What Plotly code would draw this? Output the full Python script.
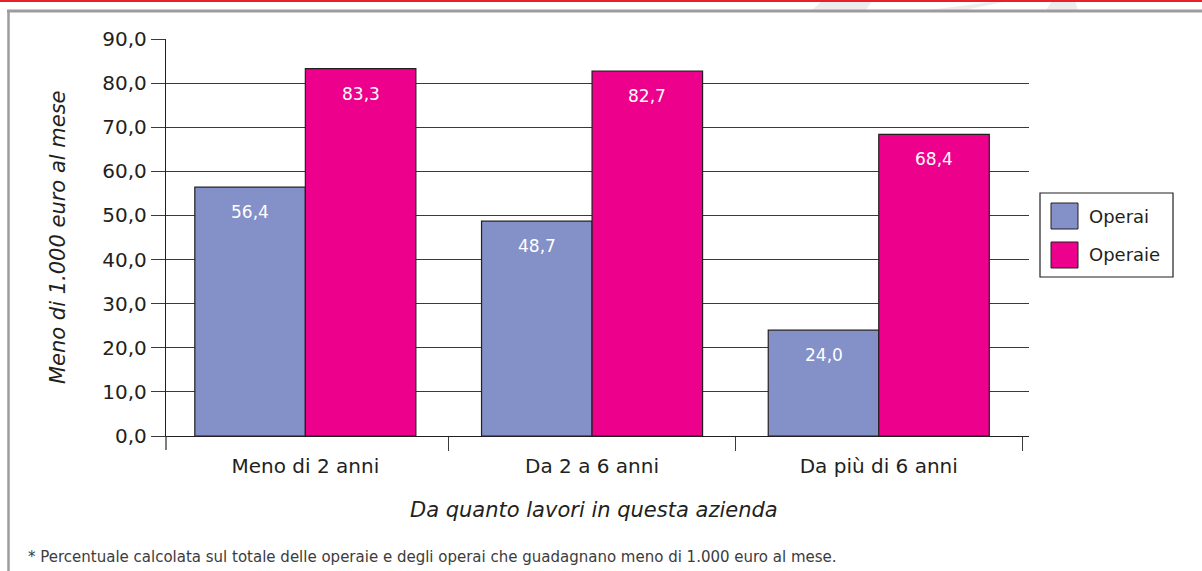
import plotly.graph_objects as go

categories = ["Meno di 2 anni", "Da 2 a 6 anni", "Da più di 6 anni"]
operai = [56.4, 48.7, 24.0]
operaie = [83.3, 82.7, 68.4]
series_names = ["Operai", "Operaie"]
y_ticks = [0, 10, 20, 30, 40, 50, 60, 70, 80, 90]

BLUE = "#8490C8"
PINK = "#EC008C"
INK = "#231F20"
FONT = "DejaVu Sans, Liberation Sans, sans-serif"

# plot-area geometry in pixels (used to place decorations in paper coords)
L, R, T, B = 166, 1029, 39, 436
PW, PH = R - L, B - T

def xp(px):
    return (px - L) / PW

def yp(py):
    return (B - py) / PH

def fmt(v):
    return f"{v:.1f}".replace(".", ",")

fig = go.Figure()
for name, vals, col in [(series_names[0], operai, BLUE), (series_names[1], operaie, PINK)]:
    fig.add_trace(go.Bar(
        x=categories, y=vals, name=name,
        marker=dict(color=col, line=dict(color=INK, width=1.2)),
        hoverinfo="skip", showlegend=False,
    ))

# value labels inside bars near the top
bar_px = 110.5
for vals, shift in [(operai, -bar_px / 2), (operaie, bar_px / 2)]:
    for c, v in zip(categories, vals):
        fig.add_annotation(
            x=c, y=v, text=fmt(v), showarrow=False,
            xref="x", yref="y", xshift=shift, yshift=-13,
            yanchor="top", xanchor="center",
            font=dict(family=FONT, size=17, color="white"),
        )

fig.update_layout(
    width=1202, height=571,
    margin=dict(l=L, r=1202 - R, t=T, b=571 - B),
    paper_bgcolor="white", plot_bgcolor="white",
    barmode="group", bargap=0.229, bargroupgap=0,
    separators=", ",
    showlegend=False,
    font=dict(family=FONT, color=INK),
)

fig.update_yaxes(
    range=[0, 90], tickvals=y_ticks, tickformat=".1f",
    showgrid=True, gridcolor="#3A3A3A", gridwidth=1.3,
    showline=True, linecolor=INK, linewidth=1.3,
    ticks="outside", ticklen=14, tickcolor="#3A3A3A", tickwidth=1.3,
    tickfont=dict(family=FONT, size=20, color=INK),
    zeroline=False,
)
fig.update_xaxes(
    range=[-0.486, 2.524],
    showline=True, linecolor=INK, linewidth=1.3,
    ticks="outside", ticklen=14, tickcolor="#3A3A3A", tickwidth=1.3,
    tickson="boundaries", ticklabelstandoff=12,
    tickfont=dict(family=FONT, size=20, color=INK),
)

# axis titles
fig.add_annotation(
    xref="paper", yref="paper", x=xp(58), y=yp(237), textangle=-90,
    xanchor="center", yanchor="middle", showarrow=False,
    text="<i>Meno di 1.000 euro al mese</i>",
    font=dict(family=FONT, size=21, color=INK),
)
fig.add_annotation(
    xref="paper", yref="paper", x=xp(594), y=yp(510),
    xanchor="center", yanchor="middle", showarrow=False,
    text="<i>Da quanto lavori in questa azienda</i>",
    font=dict(family=FONT, size=21, color=INK),
)

# left tick mark on x axis at the plot edge
fig.add_shape(type="line", xref="paper", yref="paper",
              x0=0, x1=0, y0=0, y1=yp(450), line=dict(color="#3A3A3A", width=1.3))

# manual legend
fig.add_shape(type="rect", xref="paper", yref="paper",
              x0=xp(1040), x1=xp(1173), y0=yp(193), y1=yp(277),
              line=dict(color=INK, width=1.2), fillcolor="white")
for i, (name, col) in enumerate([(series_names[0], BLUE), (series_names[1], PINK)]):
    top = 203 + i * 39
    fig.add_shape(type="rect", xref="paper", yref="paper",
                  x0=xp(1051), x1=xp(1078), y0=yp(top), y1=yp(top + 26),
                  line=dict(color=INK, width=1), fillcolor=col)
    fig.add_annotation(
        xref="paper", yref="paper", x=xp(1087), y=yp(top + 13),
        xanchor="left", yanchor="middle", showarrow=False, text=name,
        font=dict(family=FONT, size=18, color=INK),
    )

# faint watermark shapes at top right
for path in [
    "M 812 10 L 822 1 L 872 1 L 866 10 Z",
    "M 928 10 L 1000 1 L 1008 1 L 965 10 Z",
    "M 1046 10 L 1052 1 L 1075 1 L 1078 10 Z",
]:
    pts = path.split()
    out = []
    j = 0
    while j < len(pts):
        tok = pts[j]
        if tok in ("M", "L"):
            out.append(f"{tok} {xp(float(pts[j+1])):.5f},{yp(float(pts[j+2])):.5f}")
            j += 3
        else:
            out.append(tok)
            j += 1
    fig.add_shape(type="path", xref="paper", yref="paper", path=" ".join(out),
                  line=dict(width=0), fillcolor="#EDEDED", layer="above")

# outer frame and top red rule
fig.add_shape(type="line", xref="paper", yref="paper",
              x0=xp(7), x1=xp(1210), y0=yp(11), y1=yp(11),
              line=dict(color="#9C9C9C", width=2.8))
fig.add_shape(type="line", xref="paper", yref="paper",
              x0=xp(8.5), x1=xp(8.5), y0=yp(10), y1=yp(580),
              line=dict(color="#9C9C9C", width=2.5))
fig.add_shape(type="line", xref="paper", yref="paper",
              x0=xp(-5), x1=xp(1210), y0=yp(0.8), y1=yp(0.8),
              line=dict(color="#E8202A", width=2.2))

fig.add_annotation(
    xref="paper", yref="paper", x=xp(26), y=yp(557),
    xanchor="left", yanchor="middle", showarrow=False,
    text="* Percentuale calcolata sul totale delle operaie e degli operai che guadagnano meno di 1.000 euro al mese.",
    font=dict(family=FONT, size=15, color="#3C3C3C"),
)

fig.write_html(
    "out.html",
    config={"displayModeBar": False},
    post_script="document.body.style.margin='0';document.body.style.overflow='hidden';",
)
